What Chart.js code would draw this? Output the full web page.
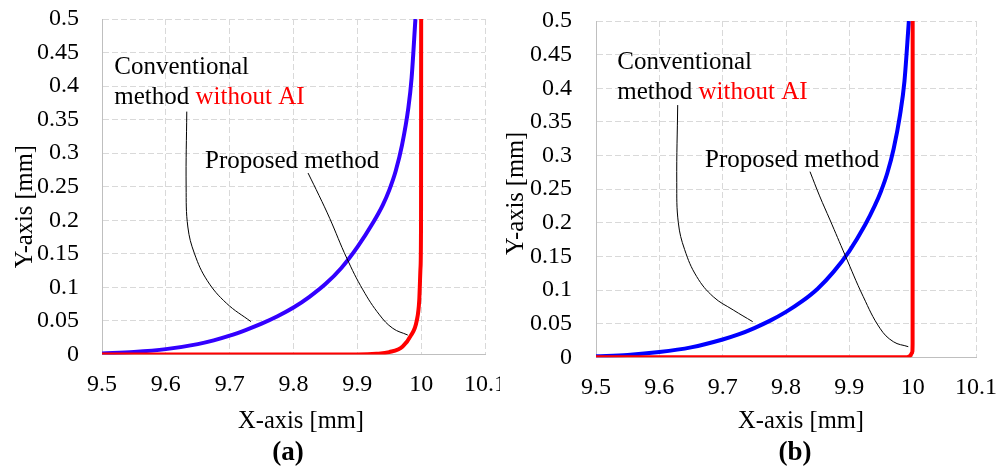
<!DOCTYPE html>
<html>
<head>
<meta charset="utf-8">
<script src="https://cdn.jsdelivr.net/npm/chart.js@4.4.1/dist/chart.umd.min.js"></script>
<style>
  body { margin: 0; background: #fff; }
  .panel { position: absolute; top: 0; }
</style>
</head>
<body>
<div class="panel" style="left:0"><canvas id="chartA" width="500" height="467"></canvas></div>
<div class="panel" style="left:500px"><canvas id="chartB" width="497" height="467"></canvas></div>
<script>
// tick labels
const xTickLabels = ['9.5', '9.6', '9.7', '9.8', '9.9', '10', '10.1'];
const yTickLabels = ['0', '0.05', '0.1', '0.15', '0.2', '0.25', '0.3', '0.35', '0.4', '0.45', '0.5'];

// panel (a) - [x, y] in mm
const conventionalA = [[9.5, 0.0015], [9.55, 0.0038], [9.6, 0.008], [9.65, 0.0155], [9.675, 0.021], [9.7, 0.028],
  [9.725, 0.0365], [9.75, 0.046], [9.775, 0.057], [9.8, 0.07], [9.825, 0.086], [9.85, 0.105], [9.875, 0.129],
  [9.9, 0.16], [9.925, 0.197], [9.94, 0.223], [9.95, 0.245], [9.96, 0.273], [9.97, 0.312], [9.98, 0.368],
  [9.985, 0.412], [9.991, 0.5]];
const proposedA = [[9.5, 0], [9.9, 0], [9.93, 0.001], [9.95, 0.0035], [9.971, 0.012], [9.984, 0.0285],
  [9.993, 0.05], [9.997, 0.081], [9.999, 0.13], [9.9998, 0.2], [10, 0.5]];
const leaderConvA = [[9.6328, 0.362], [9.6318, 0.25], [9.6345, 0.19], [9.645, 0.15], [9.665, 0.11],
  [9.695, 0.0764], [9.7333, 0.049]];
const leaderPropA = [[9.8228, 0.2704], [9.84, 0.237], [9.8567, 0.203], [9.8835, 0.1435], [9.9088, 0.0963],
  [9.9348, 0.059], [9.9556, 0.039], [9.979, 0.029]];

// panel (b)
const conventionalB = [[9.5, 0.0015], [9.55, 0.0035], [9.6, 0.0078], [9.65, 0.0148], [9.7, 0.0265], [9.725, 0.034],
  [9.75, 0.0435], [9.775, 0.0545], [9.8, 0.0675], [9.825, 0.083], [9.85, 0.102], [9.875, 0.127], [9.9, 0.158],
  [9.925, 0.197], [9.94, 0.225], [9.95, 0.247], [9.96, 0.274], [9.97, 0.31], [9.98, 0.36], [9.987, 0.41],
  [9.994, 0.5]];
const proposedB = [[9.5, 0], [9.99, 0], [9.996, 0.002], [9.9993, 0.007], [9.9999, 0.02], [10, 0.5]];
const leaderConvB = [[9.629, 0.375], [9.6275, 0.26], [9.63, 0.2], [9.64, 0.16], [9.659, 0.12],
  [9.6852, 0.09], [9.7168, 0.0703], [9.7474, 0.053]];
const leaderPropB = [[9.8379, 0.276], [9.853, 0.24], [9.8695, 0.2042], [9.8932, 0.1521], [9.922, 0.0901],
  [9.9484, 0.0431], [9.9695, 0.0232], [9.9931, 0.0158]];

const FONT = '"Liberation Serif", "Times New Roman", serif';
const H = 467;

const toPoints = arr => arr.map(([x, y]) => ({ x, y }));

// draws the annotation texts and the axis titles
const annotate = {
  id: 'annotate',
  afterDraw(chart, args, opts) {
    const { ctx, scales: { x, y } } = chart;
    ctx.save();
    ctx.textBaseline = 'alphabetic';
    for (const t of opts.items) {
      ctx.font = (t.bold ? 'bold ' : '') + t.size + 'px ' + FONT;
      let px = t.data ? x.getPixelForValue(t.x) : t.x;
      let py = t.data ? y.getPixelForValue(t.y) : t.y;
      if (t.rotate) {
        ctx.save();
        ctx.translate(px, py);
        ctx.rotate(-Math.PI / 2);
        ctx.textAlign = 'center';
        ctx.fillStyle = '#000';
        ctx.fillText(t.parts[0][0], 0, 0);
        ctx.restore();
        continue;
      }
      ctx.textAlign = 'left';
      if (t.center) {
        const w = t.parts.reduce((s, p) => s + ctx.measureText(p[0]).width, 0);
        px -= w / 2;
      }
      for (const [str, color] of t.parts) {
        ctx.fillStyle = color;
        ctx.fillText(str, px, py);
        px += ctx.measureText(str).width;
      }
    }
    ctx.restore();
  }
};

function makeChart(id, o) {
  const canvas = document.getElementById(id);
  const W = canvas.width;
  const axisFont = { family: FONT, size: 24 };
  return new Chart(canvas, {
    type: 'line',
    data: {
      datasets: [
        { data: toPoints(o.leaders[0]), borderColor: '#000', borderWidth: 1, tension: 0.4 },
        { data: toPoints(o.leaders[1]), borderColor: '#000', borderWidth: 1, tension: 0.4 },
        { data: toPoints(o.proposed), borderColor: '#ff0000', borderWidth: 4, cubicInterpolationMode: 'monotone' },
        { data: toPoints(o.conventional), borderColor: o.blue, borderWidth: 4, cubicInterpolationMode: 'monotone' }
      ]
    },
    options: {
      responsive: false,
      animation: false,
      elements: { point: { radius: 0, hoverRadius: 0 } },
      layout: { padding: { top: o.area.top, right: W - o.area.right, left: 0, bottom: 0 } },
      scales: {
        x: {
          type: 'linear', min: 9.5, max: 10.1,
          ticks: {
            stepSize: 0.1, autoSkip: false, maxRotation: 0, padding: 16, color: '#000', font: axisFont,
            callback: (v, i) => xTickLabels[i]
          },
          grid: { color: '#d9d9d9', drawTicks: false },
          border: { color: '#bfbfbf', dash: [6, 3] },
          afterFit: s => { s.height = H - o.area.bottom; s.paddingLeft = 0; s.paddingRight = 0; }
        },
        y: {
          type: 'linear', min: 0, max: 0.5,
          ticks: {
            stepSize: 0.05, autoSkip: false, padding: o.yPad, color: '#000', font: axisFont,
            callback: (v, i) => yTickLabels[i]
          },
          grid: { color: '#d9d9d9', drawTicks: false },
          border: { color: '#bfbfbf', dash: [6, 3] },
          afterFit: s => { s.width = o.area.left; s.paddingTop = 0; s.paddingBottom = 0; }
        }
      },
      plugins: {
        legend: { display: false },
        tooltip: { enabled: false },
        annotate: { items: o.texts }
      }
    },
    plugins: [annotate]
  });
}

makeChart('chartA', {
  area: { left: 102, right: 485, top: 19, bottom: 354.5 },
  yPad: 23,
  blue: '#3300ff',
  conventional: conventionalA,
  proposed: proposedA,
  leaders: [leaderConvA, leaderPropA],
  texts: [
    { data: true, x: 9.5192, y: 0.4179, size: 25, parts: [['Conventional', '#000']] },
    { data: true, x: 9.5192, y: 0.3739, size: 25, parts: [['method ', '#000'], ['without AI', '#ff0000']] },
    { data: true, x: 9.6614, y: 0.2779, size: 25, parts: [['Proposed method', '#000']] },
    { x: 301, y: 427.5, size: 24.5, center: true, parts: [['X-axis [mm]', '#000']] },
    { x: 31.5, y: 206.7, size: 24.5, rotate: true, parts: [['Y-axis [mm]', '#000']] },
    { x: 288, y: 460, size: 27, bold: true, center: true, parts: [['(a)', '#000']] }
  ]
});

makeChart('chartB', {
  area: { left: 96, right: 476, top: 21, bottom: 357.3 },
  yPad: 24,
  blue: '#0000ff',
  conventional: conventionalB,
  proposed: proposedB,
  leaders: [leaderConvB, leaderPropB],
  texts: [
    { data: true, x: 9.5336, y: 0.4286, size: 25, parts: [['Conventional', '#000']] },
    { data: true, x: 9.5336, y: 0.3840, size: 25, parts: [['method ', '#000'], ['without AI', '#ff0000']] },
    { data: true, x: 9.6721, y: 0.2834, size: 25, parts: [['Proposed method', '#000']] },
    { x: 301, y: 428, size: 24.5, center: true, parts: [['X-axis [mm]', '#000']] },
    { x: 23.3, y: 193.3, size: 24.5, rotate: true, parts: [['Y-axis [mm]', '#000']] },
    { x: 295, y: 460, size: 27, bold: true, center: true, parts: [['(b)', '#000']] }
  ]
});
</script>
</body>
</html>
